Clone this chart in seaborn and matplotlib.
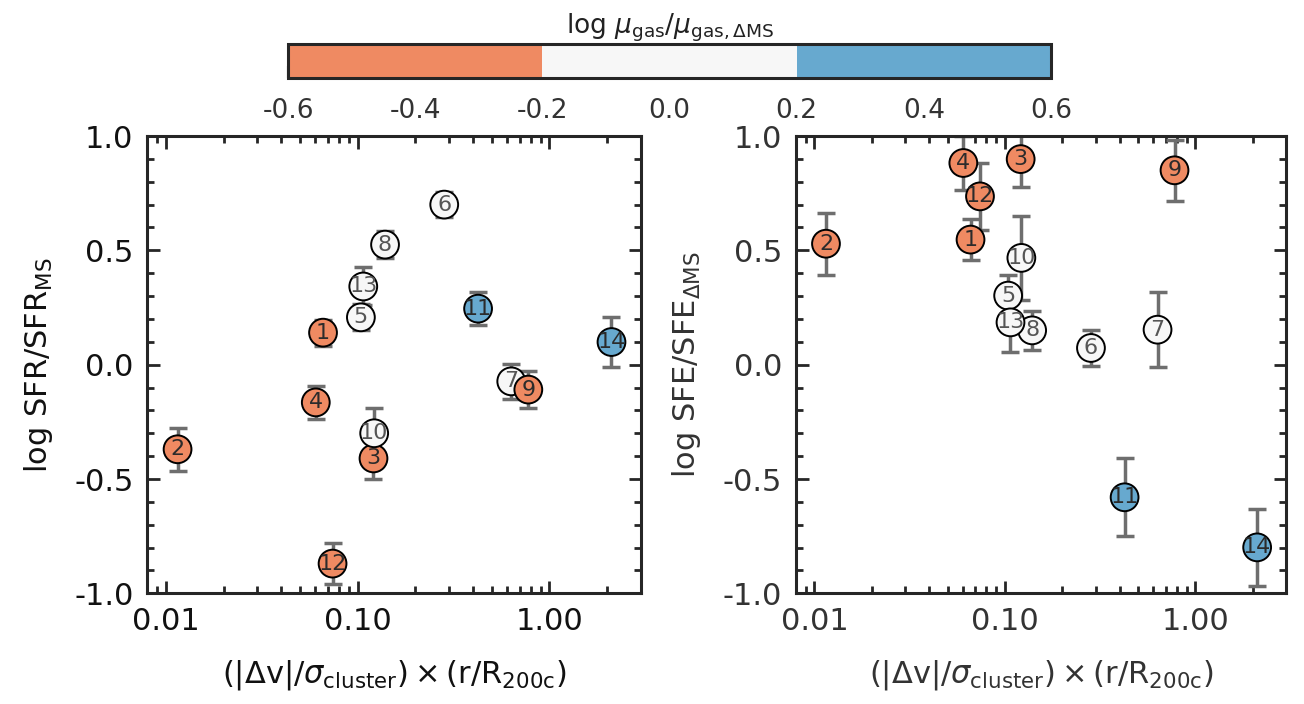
import numpy as np
import pandas as pd
import matplotlib
matplotlib.use("Agg")
import matplotlib.pyplot as plt
import matplotlib.colors as mcolors
from matplotlib.ticker import MultipleLocator, LogLocator, FixedLocator, FormatStrFormatter, NullFormatter
import seaborn as sns

# ---------------- data ----------------
galaxy_ids = [1, 2, 3, 4, 5, 6, 7, 8, 9, 10, 11, 12, 13, 14]
dv_r = [0.066, 0.0115, 0.121, 0.0605, 0.104, 0.283, 0.633, 0.139, 0.777, 0.122, 0.425, 0.074, 0.107, 2.11]
log_sfr = [0.14, -0.37, -0.41, -0.165, 0.207, 0.70, -0.073, 0.525, -0.109, -0.30, 0.245, -0.87, 0.342, 0.099]
log_sfr_err = [0.057, 0.093, 0.089, 0.073, 0.057, 0.056, 0.078, 0.058, 0.081, 0.11, 0.072, 0.088, 0.083, 0.11]
log_sfe = [0.547, 0.529, 0.899, 0.882, 0.302, 0.073, 0.153, 0.150, 0.85, 0.467, -0.58, 0.736, 0.185, -0.799]
log_sfe_err = [0.089, 0.135, 0.12, 0.117, 0.092, 0.08, 0.165, 0.084, 0.133, 0.185, 0.17, 0.145, 0.13, 0.167]
log_mu_gas = [-0.35, -0.45, -0.5, -0.4, 0.05, -0.1, 0.1, 0.0, -0.3, -0.05, 0.35, -0.25, 0.1, 0.45]

cbar_bounds = [-0.6, -0.2, 0.2, 0.6]
cbar_colors = ["#ef8a62", "#f7f7f7", "#67a9cf"]
cbar_ticks = [-0.6, -0.4, -0.2, 0.0, 0.2, 0.4, 0.6]
x_ticks = [0.01, 0.1, 1.0]
y_ticks = [-1.0, -0.5, 0.0, 0.5, 1.0]

# ---------------- style ----------------
sns.set_style("ticks")
plt.rcParams["font.family"] = ["DejaVu Sans"]
plt.rcParams["axes.unicode_minus"] = False
plt.rcParams["mathtext.fontset"] = "dejavusans"

cmap = mcolors.ListedColormap(cbar_colors)
norm = mcolors.BoundaryNorm(cbar_bounds, cmap.N)

df = pd.DataFrame({
    "id": galaxy_ids, "x": dv_r,
    "sfr": log_sfr, "sfr_err": log_sfr_err,
    "sfe": log_sfe, "sfe_err": log_sfe_err,
    "mu": log_mu_gas,
})
df["cls"] = [int(norm(v)) for v in df["mu"]]
palette = {i: c for i, c in enumerate(cbar_colors)}
text_cols = {0: "#2b2b2b", 1: "#555555", 2: "#2b2b2b"}

fig = plt.figure(figsize=(13.04, 7.04), dpi=100)
ax1 = fig.add_axes([0.113, 0.1572, 0.3784, 0.6496])
ax2 = fig.add_axes([0.6104, 0.1572, 0.3760, 0.6496])
cax = fig.add_axes([0.2209, 0.889, 0.585, 0.048])

panels = [
    (ax1, "sfr", "sfr_err", r"log SFR/SFR$_{\rm MS}$", "#111111"),
    (ax2, "sfe", "sfe_err", r"log SFE/SFE$_{\Delta\rm MS}$", "#333333"),
]

for ax, ycol, ecol, ylab, tcol in panels:
    ax.errorbar(df["x"], df[ycol], yerr=df[ecol], fmt="none", ecolor="#6e6e6e",
                elinewidth=2.5, capsize=6.5, capthick=2.5, zorder=2)
    sns.scatterplot(data=df, x="x", y=ycol, hue="cls", palette=palette, s=400,
                    edgecolor="black", linewidth=1.4, legend=False, ax=ax, zorder=3)
    for _, r in df.iterrows():
        ax.text(r["x"], r[ycol], str(int(r["id"])), ha="center", va="center",
                fontsize=16, color=text_cols[r["cls"]], zorder=4)
    ax.set_xscale("log")
    ax.set_xlim(0.008, 3.0)
    ax.set_ylim(-1.0, 1.0)
    ax.xaxis.set_major_locator(FixedLocator(x_ticks))
    ax.xaxis.set_major_formatter(FormatStrFormatter("%.2f"))
    ax.xaxis.set_minor_locator(LogLocator(base=10, subs=np.arange(2, 10)))
    ax.xaxis.set_minor_formatter(NullFormatter())
    ax.yaxis.set_major_locator(FixedLocator(y_ticks))
    ax.yaxis.set_major_formatter(FormatStrFormatter("%.1f"))
    ax.yaxis.set_minor_locator(MultipleLocator(0.1))
    ax.tick_params(which="both", direction="in", top=True, right=True, width=2,
                   labelsize=22, labelcolor=tcol, pad=10)
    ax.tick_params(which="major", length=9)
    ax.tick_params(which="minor", length=5)
    for sp in ax.spines.values():
        sp.set_linewidth(2.2)
    ax.set_xlabel(r"$(|\Delta{\rm v}|/\sigma_{\rm cluster})\times({\rm r/R_{200c}})$",
                  fontsize=22, color=tcol, labelpad=16)
    ax.set_ylabel(ylab, fontsize=22, color=tcol, labelpad=14)

cb = fig.colorbar(matplotlib.cm.ScalarMappable(norm=norm, cmap=cmap), cax=cax,
                  orientation="horizontal", boundaries=cbar_bounds, spacing="proportional")
cb.set_ticks(cbar_ticks)
cb.set_ticklabels([f"{t:.1f}" for t in cbar_ticks])
cax.xaxis.set_minor_locator(MultipleLocator(0.1))
cax.tick_params(which="both", direction="in", width=1.5, labelsize=19,
                labelcolor="#333333", pad=14, bottom=True, top=False)
cax.tick_params(which="major", length=9)
cax.tick_params(which="minor", length=5)
cb.outline.set_linewidth(2.2)
cax.set_title(r"log $\mu_{\rm gas}/\mu_{{\rm gas},\Delta{\rm MS}}$", fontsize=19,
              color="#222222", pad=8)

fig.savefig("out.png", dpi=100)
